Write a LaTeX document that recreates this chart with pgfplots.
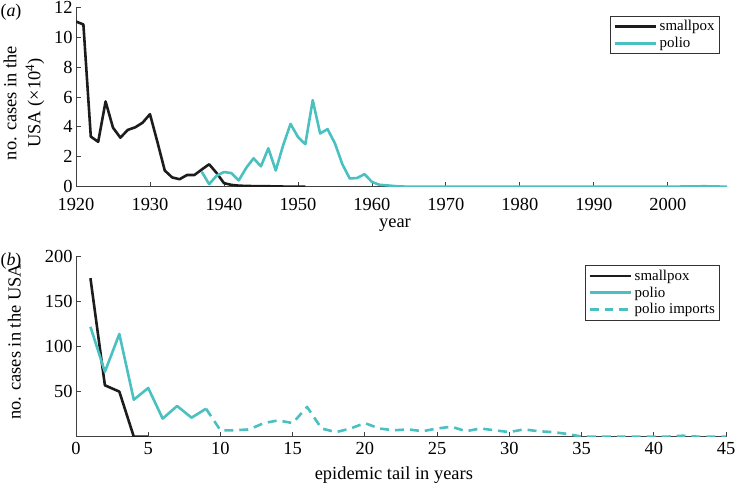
\documentclass[border=0pt]{standalone}
\usepackage{fontspec}
\setmainfont{Liberation Serif}
\usepackage{pgfplots}
\pgfplotsset{compat=1.18}
\definecolor{polio}{RGB}{75,192,192}
\definecolor{spox}{RGB}{28,28,28}

\pgfplotstableread{
year val
1920 11.05
1921 10.85
1922 3.35
1923 3.0
1924 5.7
1925 3.95
1926 3.28
1927 3.8
1928 3.97
1929 4.28
1930 4.85
1931 3.0
1932 1.08
1933 0.62
1934 0.5
1935 0.78
1936 0.78
1937 1.15
1938 1.5
1939 0.92
1940 0.24
1941 0.12
1942 0.07
1943 0.05
1944 0.04
1945 0.04
1946 0.03
1947 0.02
1948 0.01
1949 0.005
1950 0
1951 0
}\smallpoxA

\pgfplotstableread{
year val
1937 1.0
1938 0.17
1939 0.73
1940 0.98
1941 0.91
1942 0.42
1943 1.25
1944 1.9
1945 1.36
1946 2.57
1947 1.08
1948 2.77
1949 4.2
1950 3.33
1951 2.84
1952 5.79
1953 3.56
1954 3.85
1955 2.9
1956 1.51
1957 0.55
1958 0.58
1959 0.84
1960 0.32
1961 0.13
1962 0.09
1963 0.045
1964 0.012
1965 0.006
1970 0.003
1980 0.001
1990 0
2000 0
2005 0.03
2008 0
}\polioA

\pgfplotstableread{
x val
1 176
2 57
3 50
4 0
5 0
}\smallpoxB

\pgfplotstableread{
x val
1 122
2 72
3 114
4 41
5 54
6 20
7 34
8 21
9 31
}\polioB

\pgfplotstableread{
x val
9 31
10 7
11 7
12 8
13 15
14 18
15 15
16 33
17 9
18 5
19 9
20 15
21 9
22 7
23 8
24 6
25 9
26 11
27 6
28 9
29 7
30 5
31 8
32 6
33 5
34 3
35 0
36 0
37 0
38 0
39 0
40 0
41 0
42 1
43 0
44 0
45 0
}\importsB

\pgfplotsset{
 mystyle/.style={
  scale only axis,
  axis x line*=bottom, axis y line*=left,
  axis line style={-, line width=0.8pt, black!75},
  tick style={line width=0.8pt, black!75},
  tick align=inside,
  major tick length=5pt,
  /pgf/number format/assume math mode=true,
  /pgf/number format/1000 sep={},
  tick label style={font=\fontsize{18.5}{20}\selectfont},
  every axis y label/.style={rotate=90, anchor=center, align=center, font=\fontsize{18.5}{24}\selectfont},
  every axis x label/.style={anchor=center, font=\fontsize{18.5}{21}\selectfont},
  legend style={draw=black!80, line width=0.7pt, font=\fontsize{15}{16}\selectfont, anchor=north east, inner xsep=3pt, inner ysep=2.5pt, row sep=1pt, cells={anchor=west}},
  legend image code/.code={\draw[##1] (0pt,0pt) -- (42pt,0pt);},
  every axis plot/.append style={line width=2.6pt, line join=round},
 }
}

\begin{document}
\begin{tikzpicture}
\path[use as bounding box] (0,0) rectangle (735bp,488bp);

\begin{axis}[mystyle,
  at={(76bp,301.3bp)}, anchor=south west,
  width=651bp, height=179.4bp,
  xmin=1920, xmax=2008, ymin=0, ymax=12,
  xtick={1920,1930,...,2000}, ytick={0,2,...,12},
  xticklabel style={yshift=-8pt},
  xlabel={year},
  ylabel={no. cases in the\\USA (×10\textsuperscript{4})},
  every axis y label/.append style={at={(axis description cs:-0.08,0.466)}},
  every axis x label/.append style={at={(axis description cs:0.49,-0.212)}},
  legend style={at={(rel axis cs:0.989,0.953)}},
]
\addplot[spox] table[x=year,y=val] {\smallpoxA};
\addlegendentry{smallpox}
\addplot[polio] table[x=year,y=val] {\polioA};
\addlegendentry{polio}
\end{axis}

\begin{axis}[mystyle,
  at={(76bp,51.4bp)}, anchor=south west,
  width=650bp, height=180bp,
  xmin=0, xmax=45, ymin=0, ymax=200,
  xtick={0,5,...,45}, ytick={50,100,150,200},
  xticklabel style={yshift=-2.5pt},
  xlabel={epidemic tail in years},
  ylabel={no. cases in the USA},
  every axis y label/.append style={at={(axis description cs:-0.095,0.526)}},
  every axis x label/.append style={at={(axis description cs:0.489,-0.212)}},
  legend style={at={(rel axis cs:0.991,0.953)}},
]
\addplot[spox] table[x=x,y=val] {\smallpoxB};
\addlegendentry{smallpox}
\addplot[polio] table[x=x,y=val] {\polioB};
\addlegendentry{polio}
\addplot[polio, dash pattern=on 9pt off 6pt] table[x=x,y=val] {\importsB};
\addlegendentry{polio imports}
\end{axis}

\node[font=\fontsize{18}{20}\selectfont] at (11bp,475.5bp) {(\textit{a})};
\node[font=\fontsize{18}{20}\selectfont] at (11bp,227bp) {(\textit{b})};
\end{tikzpicture}
\end{document}
